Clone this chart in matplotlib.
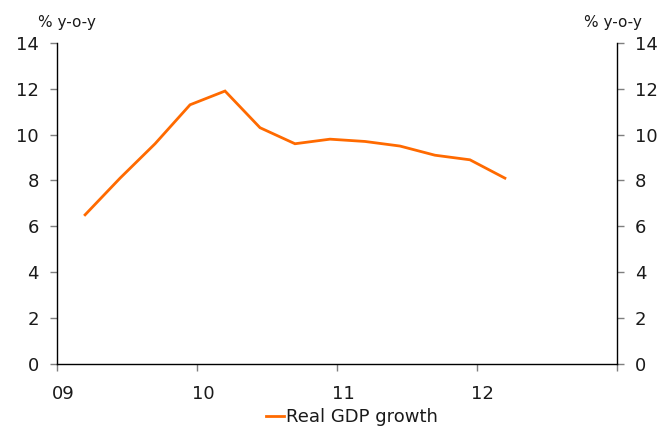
''' Real GDP growth, % y-o-y, quarterly.
'''
import matplotlib
matplotlib.use('Agg')
import matplotlib.pyplot as plt
from matplotlib.transforms import ScaledTranslation

# quarterly observations 2009Q1 .. 2012Q1, x as decimal year position
quarters = ['09Q1', '09Q2', '09Q3', '09Q4', '10Q1', '10Q2', '10Q3', '10Q4',
            '11Q1', '11Q2', '11Q3', '11Q4', '12Q1']
x_pos = [2009.2, 2009.45, 2009.7, 2009.95, 2010.2, 2010.45, 2010.7, 2010.95,
         2011.2, 2011.45, 2011.7, 2011.95, 2012.2]
gdp_growth = [6.5, 8.1, 9.6, 11.3, 11.9, 10.3, 9.6, 9.8, 9.7, 9.5, 9.1, 8.9, 8.1]

year_ticks = [2009, 2010, 2011, 2012, 2013]
year_labels = ['09', '10', '11', '12', '']
y_ticks = [0, 2, 4, 6, 8, 10, 12, 14]

plt.rcParams['font.family'] = ['DejaVu Sans']

fig = plt.figure(figsize=(6.64, 4.29), dpi=100)
ax = fig.add_axes([0.086, 0.152, 0.843, 0.748])

ax.plot(x_pos, gdp_growth, color='#ff6a00', lw=2.0, label='Real GDP growth',
        solid_joinstyle='miter')

ax.set_xlim(2009, 2013)
ax.set_ylim(0, 14)
ax.set_xticks(year_ticks)
ax.set_xticklabels(year_labels)
ax.set_yticks(y_ticks)

ax.spines['top'].set_visible(False)
for s in ['left', 'bottom', 'right']:
    ax.spines[s].set_color('black')
    ax.spines[s].set_linewidth(1.0)

ax.tick_params(axis='both', labelsize=13, colors='#7f7f7f', labelcolor='#1a1a1a',
               length=5, width=1, direction='out')
ax.tick_params(axis='x', pad=10)
ax.tick_params(axis='y', pad=8, labelright=True, right=True)

# year labels sit a little right of their tick
shift = ScaledTranslation(6 / 100, 0, fig.dpi_scale_trans)
for lab in ax.get_xticklabels():
    lab.set_transform(lab.get_transform() + shift)

fig.text(0.057, 0.948, '% y-o-y', fontsize=11, color='#1a1a1a', ha='left', va='center')
fig.text(0.967, 0.948, '% y-o-y', fontsize=11, color='#1a1a1a', ha='right', va='center')

fig.legend(loc='center', bbox_to_anchor=(0.53, 0.028), frameon=False, fontsize=13,
           handlelength=1.0, handletextpad=0.1, labelcolor='#1a1a1a',
           borderpad=0.1)

fig.savefig('out.png', dpi=100)
